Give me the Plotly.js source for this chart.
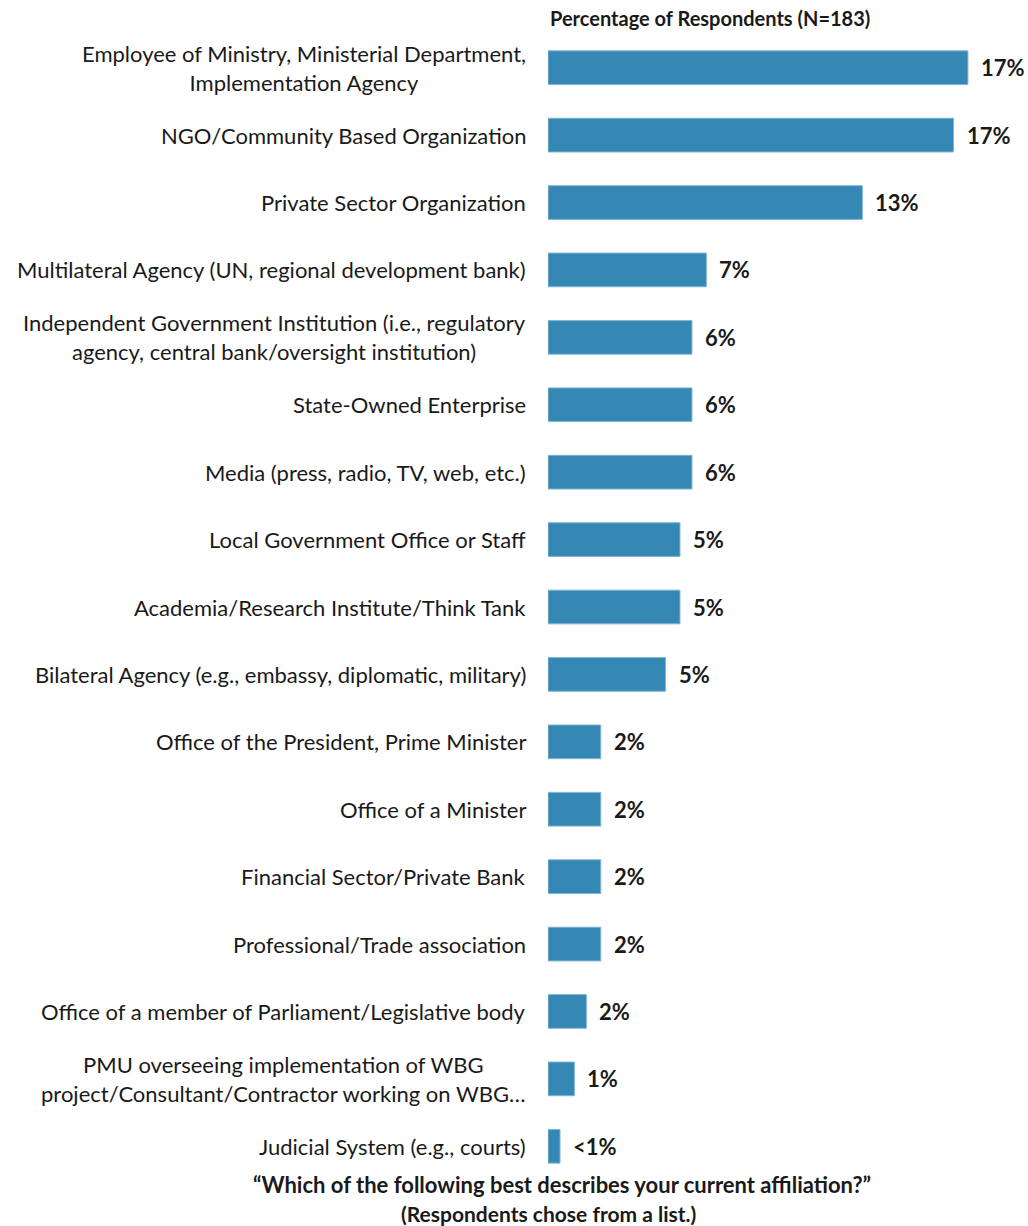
<!DOCTYPE html>
<html>
<head>
<meta charset="utf-8">
<script src="https://cdn.plot.ly/plotly-3.0.1.min.js"></script>
<style>html,body{margin:0;padding:0;background:#fff;}#chart{width:1028px;height:1226px;}</style>
</head>
<body>
<div id="chart"></div>
<script>
const categories = [
  "Employee of Ministry, Ministerial Department,<br>Implementation Agency",
  "NGO/Community Based Organization",
  "Private Sector Organization",
  "Multilateral Agency (UN, regional development bank)",
  "Independent Government Institution (i.e., regulatory<br>agency, central bank/oversight institution)",
  "State-Owned Enterprise",
  "Media (press, radio, TV, web, etc.)",
  "Local Government Office or Staff",
  "Academia/Research Institute/Think Tank",
  "Bilateral Agency (e.g., embassy, diplomatic, military)",
  "Office of the President, Prime Minister",
  "Office of a Minister",
  "Financial Sector/Private Bank",
  "Professional/Trade association",
  "Office of a member of Parliament/Legislative body",
  "PMU overseeing implementation of WBG<br>project/Consultant/Contractor working on WBG…",
  "Judicial System (e.g., courts)"
];
const percentValues = [17.5, 16.9, 13.1, 6.6, 6.0, 6.0, 6.0, 5.5, 5.5, 4.9, 2.2, 2.2, 2.2, 2.2, 1.6, 1.1, 0.5];
const valueLabels = ["17%", "17%", "13%", "7%", "6%", "6%", "6%", "5%", "5%", "5%", "2%", "2%", "2%", "2%", "2%", "1%", "<1%"];
const headerText = "Percentage of Respondents (N=183)";
const questionText = "“Which of the following best describes your current affiliation?”";
const noteText = "(Respondents chose from a list.)";

const FONT = "Lato, 'Noto Sans', sans-serif";
const ids = categories.map((c, i) => "c" + i);

const trace = {
  type: "bar",
  orientation: "h",
  y: ids,
  x: percentValues,
  marker: { color: "#3587b4", line: { color: "#7fb5d5", width: 1 } },
  hoverinfo: "x"
};

const annotations = [];
categories.forEach((c, i) => {
  annotations.push({
    xref: "paper", yref: "y", x: 0, y: ids[i], xanchor: "right", yanchor: "middle",
    xshift: -20, text: c, align: "center", showarrow: false,
    font: { family: FONT, size: 22, color: "#1a1a1a" }
  });
  annotations.push({
    xref: "x", yref: "y", x: percentValues[i], y: ids[i], xanchor: "left", yanchor: "middle",
    xshift: 11, text: "<b>" + valueLabels[i] + "</b>", showarrow: false,
    font: { family: FONT, size: 22, color: "#1a1a1a" }
  });
});
annotations.push({
  xref: "paper", yref: "paper", x: 0, y: 1, xanchor: "left", yanchor: "middle", yshift: 16,
  text: "<b>" + headerText + "</b>", showarrow: false,
  font: { family: FONT, size: 20, color: "#1a1a1a" }
});
annotations.push({
  xref: "paper", yref: "paper", x: 0.03, y: 0, xanchor: "center", yanchor: "middle", yshift: -4,
  text: "<b>" + questionText + "</b>", showarrow: false,
  font: { family: FONT, size: 22, color: "#1a1a1a" }
});
annotations.push({
  xref: "paper", yref: "paper", x: 0, y: 0, xanchor: "center", yanchor: "middle", yshift: -33,
  text: "<b>" + noteText + "</b>", showarrow: false,
  font: { family: FONT, size: 21, color: "#1a1a1a" }
});

const layout = {
  width: 1028, height: 1226,
  margin: { l: 548, r: 20, t: 34, b: 46 },
  paper_bgcolor: "#ffffff", plot_bgcolor: "#ffffff",
  showlegend: false,
  bargap: 0.5,
  xaxis: { range: [0, 19.17], visible: false, fixedrange: true },
  yaxis: { autorange: "reversed", showticklabels: false, showgrid: false, zeroline: false, ticks: "", showline: false },
  annotations: annotations
};

Plotly.newPlot("chart", [trace], layout, { displayModeBar: false, staticPlot: true });
</script>
</body>
</html>
